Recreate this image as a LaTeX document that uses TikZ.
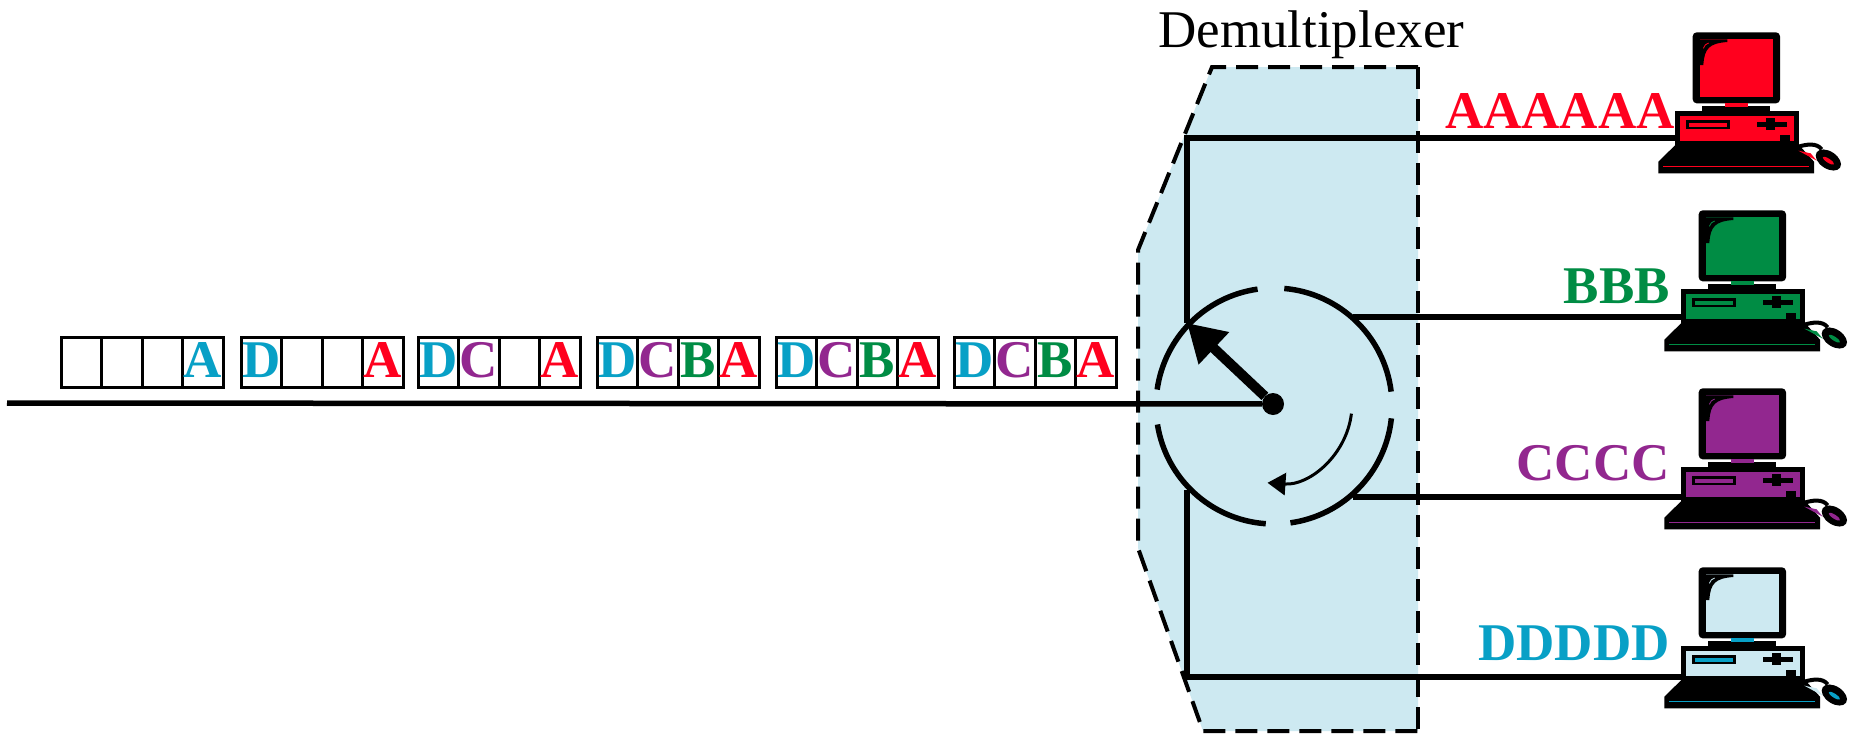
\documentclass[tikz,border=0pt]{standalone}
\usepackage{fontspec}
\setmainfont{Liberation Serif}
\usetikzlibrary{arrows.meta}
\definecolor{chA}{RGB}{255,0,30}
\definecolor{chB}{RGB}{0,140,68}
\definecolor{chC}{RGB}{146,39,143}
\definecolor{chD}{RGB}{8,160,198}
\definecolor{pale}{RGB}{205,233,241}
\tikzset{
  cellbox/.style={draw=black,line width=3pt,inner sep=0pt,outer sep=0pt,minimum width=40.5pt,
    text height=40pt,text depth=10pt,font=\fontsize{53}{60}\selectfont\bfseries},
  wire/.style={line width=5.5pt,line cap=butt},
  rim/.style={line width=5.5pt,line cap=butt},
  toptext/.style={anchor=base east,inner sep=0pt,font=\fontsize{53}{60}\selectfont\bfseries},
  pics/computer/.style 2 args={code={
    \begin{scope}[x=0.33333pt,y=-0.33333pt]
      \fill[black,rounded corners=4pt] (158,37) rectangle (420,250);
      \fill[#1] (180,58) rectangle (400,230);
      \fill[black] (180,58) -- (262,58) -- (262,66) .. controls (208,70) and (193,85) .. (190,135) -- (180,135) -- cycle;
      \draw[#1,line width=0.8pt] (190,85) .. controls (193,75) and (198,72) .. (206,69);
      \fill[black] (185,258) rectangle (390,275);
      \fill[#2] (255,250) rectangle (325,260);
      \fill[black] (105,272) rectangle (478,378);
      \fill[#1] (120,288) rectangle (462,362);
      \fill[black] (138,300) rectangle (270,328);
      \fill[#2] (148,308) rectangle (260,320);
      \fill[black] (350,305) rectangle (440,322);
      \fill[black] (378,295) rectangle (405,330);
      \fill[black] (420,345) rectangle (450,365);
      \fill[black] (105,376) -- (478,376) -- (522,425) -- (522,460) -- (55,460) -- (55,425) -- cycle;
      \draw[#2,line width=1.6pt] (70,440) -- (508,440);
      \draw[black,line width=4pt] (468,382) .. controls (500,372) and (530,368) .. (545,388);
      \fill[#1] (475,392) -- (512,400) -- (530,422) -- cycle;
      \fill[black,rotate around={-33:(565,420)}] (565,420) ellipse [x radius=42,y radius=26];
      \fill[#2,rotate around={-33:(565,422)}] (565,422) ellipse [x radius=20,y radius=6];
      \coordinate (-left) at (105,325);
    \end{scope}
  }}
}
\newcommand{\LA}{\color{chA}A}
\newcommand{\LAc}{\color{chD}A}
\newcommand{\LB}{\color{chB}B}
\newcommand{\LC}{\color{chC}C}
\newcommand{\LD}{\color{chD}D}
\newcommand{\packet}[6]{%
  \node[cellbox] (#1a) at (#2+20.25,362) {#3};
  \node[cellbox] (#1b) at (#2+60.75,362) {#4};
  \node[cellbox] (#1c) at (#2+101.25,362) {#5};
  \node[cellbox] (#1d) at (#2+141.75,362) {#6};
}
\begin{document}
\begin{tikzpicture}[x=1pt,y=-1pt]
\useasboundingbox[fill=white] (0,0) rectangle (1851,734);
% demultiplexer body
\coordinate (bA) at (1212,67);
\coordinate (bB) at (1418,67);
\coordinate (bC) at (1418,731);
\coordinate (bD) at (1203,731);
\coordinate (bE) at (1138,548);
\coordinate (bF) at (1138,250);
\fill[pale] (bA) -- (bB) -- (bC) -- (bD) -- (bE) -- (bF) -- cycle;
\draw[line width=4pt,dash pattern=on 22pt off 10pt] (bB) -- (bC);
\draw[line width=4pt,dash pattern=on 22pt off 10pt] (bB) -- (bA) -- (bF) -- (bE) -- (bD) -- (bC);
\node[anchor=base west,inner sep=0pt,font=\fontsize{53}{60}\selectfont] (title) at (1158,47) {Demultiplexer};
% packets
\packet{p}{61}{}{}{}{\LAc}
\packet{q}{241}{\LD}{}{}{\LA}
\packet{r}{418}{\LD}{\LC}{}{\LA}
\packet{s}{597}{\LD}{\LC}{\LB}{\LA}
\packet{t}{776}{\LD}{\LC}{\LB}{\LA}
\packet{u}{954}{\LD}{\LC}{\LB}{\LA}
% hub and rim
\coordinate (c) at (1274,406);
\node[circle,fill=black,inner sep=0pt,minimum size=22pt] (hub) at (1273,404) {};
\coordinate (in) at (7,403);
\draw[wire] (in) -- (hub);
\draw[rim] (c) ++(-172:118) arc[start angle=-172,end angle=-98,radius=118];
\draw[rim] (c) ++(-85:118) arc[start angle=-85,end angle=-7,radius=118];
\draw[rim] (c) ++(6:118) arc[start angle=6,end angle=82,radius=118];
\draw[rim] (c) ++(94:118) arc[start angle=94,end angle=171,radius=118];
\coordinate (ja) at (1187,323);
\coordinate (jb) at (1353,317);
\coordinate (jc) at (1353,497);
\coordinate (jd) at (1187,490);
\coordinate (ca) at (1187,138);
\coordinate (cd) at (1187,677);
\draw[line width=10pt,-{Triangle[length=37pt,width=42pt,sep=0pt]}] (hub) -- (ja);
\draw[line width=3pt,-{Triangle[length=18pt,width=22pt]}] (hub) ++(7:79) arc[start angle=7,end angle=94,radius=79];
% computers
\pic (pcA) at (1640,20) {computer={chA}{chA}};
\pic (pcB) at (1646,198) {computer={chB}{chB}};
\pic (pcC) at (1646,376) {computer={chC}{chC}};
\pic (pcD) at (1646,555) {computer={pale}{chD}};
% wires
\draw[wire] (ja) -- (ca) -- (ca -| pcA-left);
\draw[wire] (jb) -- (jb -| pcB-left);
\draw[wire] (jc) -- (jc -| pcC-left);
\draw[wire] (jd) -- (cd) -- (cd -| pcD-left);
% labels
\node[toptext,text=chA] (la) at (1675,128) {AAAAAA};
\node[toptext,text=chB] (lb) at (1670,303) {BBB};
\node[toptext,text=chC] (lc) at (1670,480) {CCCC};
\node[toptext,text=chD] (ld) at (1670,660) {DDDDD};
\end{tikzpicture}
\end{document}
